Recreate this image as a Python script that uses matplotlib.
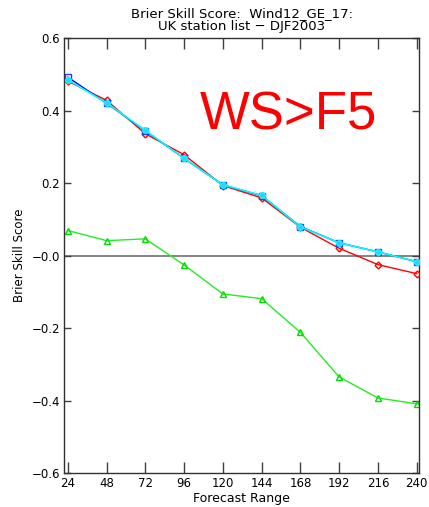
import numpy as np
import matplotlib
matplotlib.use("Agg")
import matplotlib.pyplot as plt

# forecast range (hours)
lead = [24, 48, 72, 96, 120, 144, 168, 192, 216, 240]

# Brier skill score per series
bss_red = [0.481, 0.428, 0.336, 0.278, 0.193, 0.159, 0.078, 0.020, -0.025, -0.050]
bss_blue = [0.492, 0.420, 0.344, 0.268, 0.195, 0.165, 0.080, 0.035, 0.010, -0.017]
bss_cyan = [0.485, 0.421, 0.345, 0.268, 0.195, 0.166, 0.079, 0.035, 0.010, -0.017]
bss_green = [0.069, 0.041, 0.046, -0.026, -0.106, -0.119, -0.212, -0.335, -0.393, -0.409]

yticks = [0.6, 0.4, 0.2, 0.0, -0.2, -0.4, -0.6]
ytick_labels = ["0.6", "0.4", "0.2", "\u22120.0", "\u22120.2", "\u22120.4", "\u22120.6"]

fig = plt.figure(figsize=(4.29, 5.07), dpi=100)
ax = fig.add_axes([0.149, 0.067, 0.828, 0.858])

ax.axhline(0.0, color="#707070", lw=1.2, zorder=1)

ax.plot(lead, bss_green, color="#22ee22", lw=1.0, marker="^", ms=5,
        mfc="none", mec="#00dd00", mew=1.0, zorder=2)
ax.plot(lead, bss_red, color="red", lw=1.0, marker="D", ms=3.5,
        mfc="none", mec="red", mew=1.0, zorder=3)
ax.plot(lead, bss_blue, color="blue", lw=1.0, marker="s", ms=5,
        mfc="none", mec="#3030ff", mew=1.0, zorder=4)
ax.plot(lead, bss_cyan, color="cyan", lw=1.2, marker="o", ms=4,
        mfc="#40c8ff", mec="cyan", mew=1.0, zorder=5)

ax.set_xlim(21.6, 241.5)
ax.set_ylim(-0.6, 0.6)
ax.set_xticks(lead)
ax.set_yticks(yticks)
ax.set_yticklabels(ytick_labels)

ax.tick_params(axis="x", direction="in", length=8, width=1, top=True,
               labelsize=8.5, pad=3, color="#404040")
ax.tick_params(axis="y", direction="in", length=5, width=1, right=True,
               labelsize=8.5, pad=3, color="#404040")
for s in ax.spines.values():
    s.set_color("#303030")
    s.set_linewidth(1.0)

ax.set_xlabel("Forecast Range", fontsize=9, labelpad=1)
ax.set_ylabel("Brier Skill Score", fontsize=8.5, labelpad=4)
ax.set_title("Brier Skill Score:  Wind12_GE_17:\nUK station list \u2212 DJF2003",
             fontsize=9.5, linespacing=0.95, pad=6)

# big label in the upper right
ax.text(0.383, 0.823, "WS>F5", color="red", fontsize=38,
        family="Liberation Sans", ha="left", va="center",
        transform=ax.transAxes)

fig.savefig("out.png", dpi=100)
